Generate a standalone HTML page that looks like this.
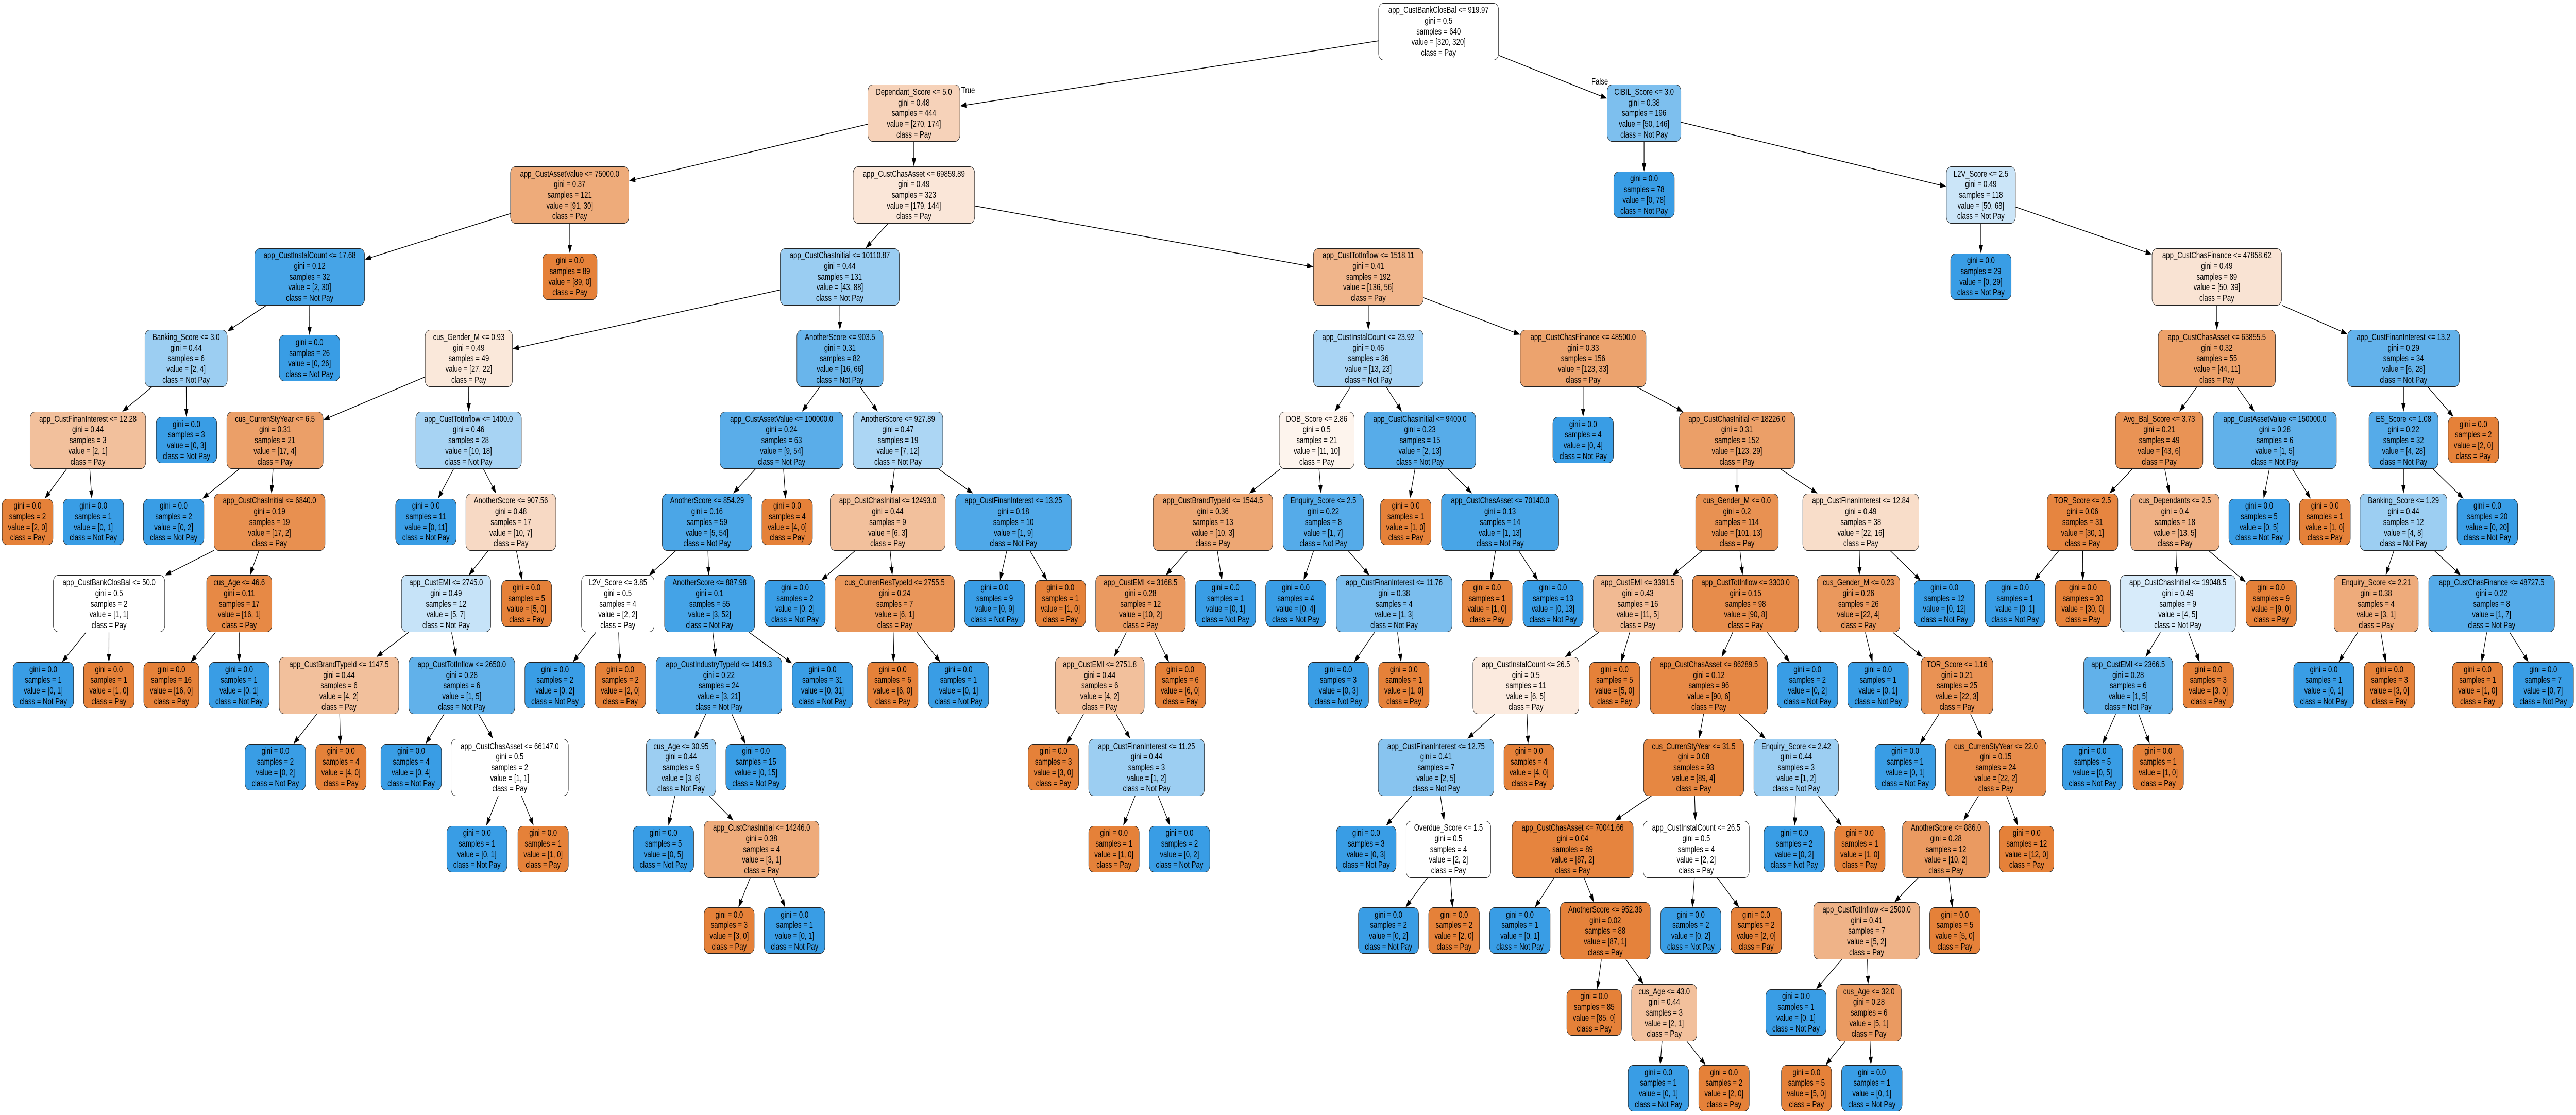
<!DOCTYPE html>
<html><head><meta charset="utf-8">
<style>
html,body{margin:0;padding:0;background:#fff;overflow:hidden;}
#c{position:relative;width:6638px;height:2164px;overflow:hidden;background:#fff;font-family:"Liberation Sans",Arial,sans-serif;transform-origin:0 0;}
#c svg{position:absolute;left:0;top:0;}
.n{position:absolute;box-sizing:border-box;border:1.6px solid #222;border-radius:13px;display:flex;align-items:center;justify-content:center;text-align:center;font-size:17.5px;line-height:20.7px;color:#000;white-space:nowrap;}
.lb{position:absolute;font-size:17.5px;color:#000;}
</style></head><body>
<div id="c">
<svg id="s" width="6638" height="2164" viewBox="0 0 6638 2164"></svg>
<div class="lb" style="left:2477px;top:165px;">True</div>
<div class="lb" style="left:4101px;top:148px;">False</div>
</div>
<script>
var nodes=[];
function N(p,l,r,L,lab,g,a,b){nodes.push({p:p,l:l,r:r,L:L,lab:lab,g:g,a:a,b:b});return nodes.length-1;}
function F(p,l,r,L,a,b){return N(p,l,r,L,null,"0.0",a,b);}
var r0=N(-1,3552,3862,0,"app_CustBankClosBal <= 919.97","0.5",320,320);
var d1=N(r0,2236,2474,1,"Dependant_Score <= 5.0","0.48",270,174);
var a2=N(d1,1315,1621,2,"app_CustAssetValue <= 75000.0","0.37",91,30);
var a3=N(a2,656,940,3,"app_CustInstalCount <= 17.68","0.12",2,30);
var a4=N(a3,373,586,4,"Banking_Score <= 3.0","0.44",2,4);
var a5=N(a4,77,376,5,"app_CustFinanInterest <= 12.28","0.44",2,1);
F(a5,5,137,6,2,0);F(a5,162,319,6,0,1);
F(a4,402,559,5,0,3);
F(a3,719,876,4,0,26);
F(a2,1398,1539,3,89,0);
var b2=N(d1,2198,2512,2,"app_CustChasAsset <= 69859.89","0.49",179,144);
var b3=N(b2,2010,2318,3,"app_CustChasInitial <= 10110.87","0.44",43,88);
var b4=N(b3,1095,1321,4,"cus_Gender_M <= 0.93","0.49",27,22);
var b5=N(b4,584,833,5,"cus_CurrenStyYear <= 6.5","0.31",17,4);
F(b5,369,526,6,0,2);
var b6=N(b5,551,838,6,"app_CustChasInitial <= 6840.0","0.19",17,2);
var b7=N(b6,137,425,7,"app_CustBankClosBal <= 50.0","0.5",1,1);
F(b7,33,190,8,0,1);F(b7,215,346,8,1,0);
var b7b=N(b6,532,701,7,"cus_Age <= 46.6","0.11",16,1);
F(b7b,370,513,8,16,0);F(b7b,538,694,8,0,1);
var c5=N(b4,1071,1344,5,"app_CustTotInflow <= 1400.0","0.46",10,18);
F(c5,1019,1176,6,0,11);
var c6=N(c5,1200,1433,6,"AnotherScore <= 907.56","0.48",10,7);
var c7=N(c6,1034,1265,7,"app_CustEMI <= 2745.0","0.49",5,7);
var c8=N(c7,719,1028,8,"app_CustBrandTypeId <= 1147.5","0.44",4,2);
F(c8,631,788,9,0,2);F(c8,813,944,9,4,0);
var c8b=N(c7,1053,1327,8,"app_CustTotInflow <= 2650.0","0.28",1,5);
F(c8b,981,1138,9,0,4);
var c9=N(c8b,1162,1465,9,"app_CustChasAsset <= 66147.0","0.5",1,1);
F(c9,1151,1307,10,0,1);F(c9,1334,1465,10,1,0);
F(c6,1292,1422,7,5,0);
var e4=N(b3,2053,2276,4,"AnotherScore <= 903.5","0.31",16,66);
var e5=N(e4,1855,2173,5,"app_CustAssetValue <= 100000.0","0.24",9,54);
var e6=N(e5,1706,1938,6,"AnotherScore <= 854.29","0.16",5,54);
var e7=N(e6,1498,1686,7,"L2V_Score <= 3.85","0.5",2,2);
F(e7,1352,1508,8,0,2);F(e7,1533,1664,8,2,0);
var e7b=N(e6,1712,1945,7,"AnotherScore <= 887.98","0.1",3,52);
var e8=N(e7b,1690,2015,8,"app_CustIndustryTypeId <= 1419.3","0.22",3,21);
var e9=N(e8,1665,1845,9,"cus_Age <= 30.95","0.44",3,6);
F(e9,1631,1788,10,0,5);
var e10=N(e9,1814,2111,10,"app_CustChasInitial <= 14246.0","0.38",3,1);
F(e10,1814,1944,11,3,0);F(e10,1969,2126,11,0,1);
F(e8,1870,2026,9,0,15);
F(e7b,2041,2198,8,0,31);
F(e5,1963,2094,6,4,0);
var f5=N(e4,2198,2430,5,"AnotherScore <= 927.89","0.47",7,12);
var f6=N(f5,2139,2436,6,"app_CustChasInitial <= 12493.0","0.44",6,3);
F(f6,1970,2127,7,0,2);
var f7=N(f6,2151,2460,7,"cus_CurrenResTypeId <= 2755.5","0.24",6,1);
F(f7,2235,2366,8,6,0);F(f7,2392,2548,8,0,1);
var f6b=N(f5,2462,2761,6,"app_CustFinanInterest <= 13.25","0.18",1,9);
F(f6b,2485,2641,7,0,9);F(f6b,2667,2798,7,1,0);
var g3=N(b2,3384,3668,3,"app_CustTotInflow <= 1518.11","0.41",136,56);
var g4=N(g3,3384,3668,4,"app_CustInstalCount <= 23.92","0.46",13,23);
var g5=N(g4,3296,3490,5,"DOB_Score <= 2.86","0.5",11,10);
var g6=N(g5,2971,3280,6,"app_CustBrandTypeId <= 1544.5","0.36",10,3);
var g7=N(g6,2823,3055,7,"app_CustEMI <= 3168.5","0.28",10,2);
var g8=N(g7,2719,2949,8,"app_CustEMI <= 2751.8","0.44",4,2);
F(g8,2649,2780,9,3,0);
var g9=N(g8,2805,3104,9,"app_CustFinanInterest <= 11.25","0.44",1,2);
F(g9,2805,2936,10,1,0);F(g9,2961,3118,10,0,2);
F(g7,2976,3107,8,6,0);
F(g6,3080,3236,7,0,1);
var h6=N(g5,3306,3514,6,"Enquiry_Score <= 2.5","0.22",1,7);
F(h6,3261,3417,7,0,4);
var h7=N(h6,3443,3742,7,"app_CustFinanInterest <= 11.76","0.38",1,3);
F(h7,3370,3527,8,0,3);F(h7,3552,3683,8,1,0);
var i5=N(g4,3515,3803,5,"app_CustChasInitial <= 9400.0","0.23",2,13);
F(i5,3557,3688,6,1,0);
var i6=N(i5,3714,4017,6,"app_CustChasAsset <= 70140.0","0.13",1,13);
F(i6,3767,3897,7,1,0);F(i6,3924,4080,7,0,13);
var j4=N(g3,3917,4242,4,"app_CustChasFinance <= 48500.0","0.33",123,33);
F(j4,4001,4158,5,0,4);
var j5=N(j4,4327,4625,5,"app_CustChasInitial <= 18226.0","0.31",123,29);
var j6=N(j5,4369,4583,6,"cus_Gender_M <= 0.0","0.2",101,13);
var j7=N(j6,4105,4336,7,"app_CustEMI <= 3391.5","0.43",11,5);
var j8=N(j7,3795,4069,8,"app_CustInstalCount <= 26.5","0.5",6,5);
var j9=N(j8,3551,3850,9,"app_CustFinanInterest <= 12.75","0.41",2,5);
F(j9,3443,3598,10,0,3);
var j10=N(j9,3623,3842,10,"Overdue_Score <= 1.5","0.5",2,2);
F(j10,3500,3656,11,0,2);F(j10,3681,3813,11,2,0);
F(j8,3875,4005,9,4,0);
F(j7,4095,4226,8,5,0);
var k7=N(j6,4361,4635,7,"app_CustTotInflow <= 3300.0","0.15",90,8);
var k8=N(k7,4252,4555,8,"app_CustChasAsset <= 86289.5","0.12",90,6);
var k9=N(k8,4235,4494,9,"cus_CurrenStyYear <= 31.5","0.08",89,4);
var k10=N(k9,3896,4209,10,"app_CustChasAsset <= 70041.66","0.04",87,2);
F(k10,3838,3995,11,0,1);
var k11=N(k10,4020,4253,11,"AnotherScore <= 952.36","0.02",87,1);
F(k11,4037,4179,12,85,0);
var k12=N(k11,4204,4373,12,"cus_Age <= 43.0","0.44",2,1);
F(k12,4195,4352,13,0,1);F(k12,4377,4508,13,2,0);
var k10b=N(k9,4234,4508,10,"app_CustInstalCount <= 26.5","0.5",2,2);
F(k10b,4279,4435,11,0,2);F(k10b,4460,4591,11,2,0);
var k9b=N(k8,4519,4738,9,"Enquiry_Score <= 2.42","0.44",1,2);
F(k9b,4545,4702,10,0,2);F(k9b,4727,4858,10,1,0);
F(k7,4579,4736,8,0,2);
var m6=N(j5,4645,4945,6,"app_CustFinanInterest <= 12.84","0.49",22,16);
var m7=N(m6,4682,4896,7,"cus_Gender_M <= 0.23","0.26",22,4);
F(m7,4761,4918,8,0,1);
var m8=N(m7,4950,5136,8,"TOR_Score <= 1.16","0.21",22,3);
F(m8,4831,4988,9,0,1);
var m9=N(m8,5013,5273,9,"cus_CurrenStyYear <= 22.0","0.15",22,2);
var m10=N(m9,4902,5127,10,"AnotherScore <= 886.0","0.28",10,2);
var m11=N(m10,4673,4947,11,"app_CustTotInflow <= 2500.0","0.41",5,2);
F(m11,4550,4706,12,0,1);
var m12=N(m11,4732,4900,12,"cus_Age <= 32.0","0.28",5,1);
F(m12,4590,4720,13,5,0);F(m12,4745,4902,13,0,1);
F(m10,4972,5103,11,5,0);
F(m9,5152,5293,10,12,0);
F(m6,4932,5089,7,0,12);
var n1=N(r0,4141,4332,1,"CIBIL_Score <= 3.0","0.38",50,146);
F(n1,4158,4315,2,0,78);
var n2=N(n1,5015,5194,2,"L2V_Score <= 2.5","0.49",50,68);
F(n2,5026,5183,3,0,29);
var n3=N(n2,5545,5880,3,"app_CustChasFinance <= 47858.62","0.49",50,39);
var n4=N(n3,5561,5864,4,"app_CustChasAsset <= 63855.5","0.32",44,11);
var n5=N(n4,5451,5677,5,"Avg_Bal_Score <= 3.73","0.21",43,6);
var n6=N(n5,5275,5458,6,"TOR_Score <= 2.5","0.06",30,1);
F(n6,5115,5270,7,0,1);F(n6,5296,5439,7,30,0);
var n6b=N(n5,5490,5719,6,"cus_Dependants <= 2.5","0.4",13,5);
var n7=N(n6b,5463,5761,7,"app_CustChasInitial <= 19048.5","0.49",4,5);
var n8=N(n7,5369,5599,8,"app_CustEMI <= 2366.5","0.28",1,5);
F(n8,5314,5470,9,0,5);F(n8,5496,5627,9,1,0);
F(n7,5625,5756,8,3,0);
F(n6b,5787,5918,7,9,0);
var n5b=N(n4,5703,6021,5,"app_CustAssetValue <= 150000.0","0.28",1,5);
F(n5b,5743,5900,6,0,5);F(n5b,5925,6057,6,1,0);
var p4=N(n3,6049,6338,4,"app_CustFinanInterest <= 13.2","0.29",6,28);
var p5=N(p4,6104,6283,5,"ES_Score <= 1.08","0.22",4,28);
var p6=N(p5,6081,6306,6,"Banking_Score <= 1.29","0.44",4,8);
var p7=N(p6,6014,6232,7,"Enquiry_Score <= 2.21","0.38",3,1);
F(p7,5910,6066,8,0,1);F(p7,6092,6223,8,3,0);
var p7b=N(p6,6258,6583,7,"app_CustChasFinance <= 48727.5","0.22",1,7);
F(p7b,6319,6450,8,1,0);F(p7b,6475,6632,8,0,7);
F(p5,6331,6488,6,0,20);
F(p4,6308,6439,5,2,0);

var c=document.getElementById('c'), s=document.getElementById('s');
function col(a,b){
  var t=a+b, fa=a/t, fb=b/t, hi=Math.max(fa,fb), lo=Math.min(fa,fb);
  var al=(hi-lo)/(1-lo);
  var base=(a>=b)?[229,129,57]:[57,157,229];
  return 'rgb('+base.map(function(v){return Math.round(al*v+(1-al)*255);}).join(',')+')';
}
nodes.forEach(function(n){
  var rt=5.5+158.7*n.L;
  if(n.lab){n.t=rt;n.h=111;}
  else{n.t=(n.L==13)?2067:rt+10;n.h=90;}
  n.cx=(n.l+n.r)/2;n.cy=n.t+n.h/2;
  var d=document.createElement('div');d.className='n';
  d.style.left=n.l+'px';d.style.top=n.t+'px';d.style.width=(n.r-n.l)+'px';d.style.height=n.h+'px';
  d.style.background=col(n.a,n.b);
  var lines=[];
  if(n.lab)lines.push(n.lab);
  lines.push('gini = '+n.g);
  lines.push('samples = '+(n.a+n.b));
  lines.push('value = ['+n.a+', '+n.b+']');
  lines.push('class = '+(n.a>=n.b?'Pay':'Not Pay'));
  var inner=document.createElement('div');
  inner.innerHTML=lines.map(function(x){return x.replace(/</g,'&lt;');}).join('<br>');
  d.appendChild(inner);c.appendChild(d);
});
function clip(n,dx,dy){
  var hw=(n.r-n.l)/2, hh=n.h/2;
  var tx=dx!==0?hw/Math.abs(dx):1e9, ty=dy!==0?hh/Math.abs(dy):1e9;
  var t=Math.min(tx,ty);
  return [n.cx+dx*t,n.cy+dy*t];
}
var svg='';
nodes.forEach(function(n){
  if(n.p<0)return;
  var p=nodes[n.p];
  var dx=n.cx-p.cx, dy=n.cy-p.cy, len=Math.sqrt(dx*dx+dy*dy); dx/=len; dy/=len;
  var s0=clip(p,dx,dy), e0=clip(n,-dx,-dy);
  var L=16, W=5.5;
  var bx=e0[0]-dx*L, by=e0[1]-dy*L;
  svg+='<line x1="'+s0[0].toFixed(1)+'" y1="'+s0[1].toFixed(1)+'" x2="'+bx.toFixed(1)+'" y2="'+by.toFixed(1)+'" stroke="#000" stroke-width="1.5"/>';
  var px=-dy, py=dx;
  svg+='<polygon points="'+e0[0].toFixed(1)+','+e0[1].toFixed(1)+' '+(bx+px*W).toFixed(1)+','+(by+py*W).toFixed(1)+' '+(bx-px*W).toFixed(1)+','+(by-py*W).toFixed(1)+'" fill="#000"/>';
});
s.innerHTML=svg;
function fit(){
  var w=window.innerWidth||document.documentElement.clientWidth||6638;
  var h=window.innerHeight||document.documentElement.clientHeight||2164;
  var sx=w/6638, sy=h/2164;
  if(!(sx>0))sx=1; if(!(sy>0))sy=1;
  if(Math.abs(sx-1)>0.001||Math.abs(sy-1)>0.001){c.style.transform='scale('+sx+','+sy+')';}
  else{c.style.transform='none';}
}
fit();
window.addEventListener('resize',fit);
</script>
</body></html>
